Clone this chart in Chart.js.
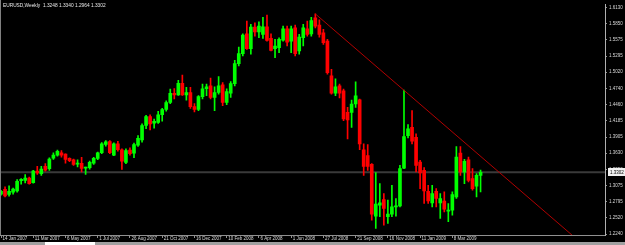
<!DOCTYPE html>
<html>
<head>
<meta charset="utf-8">
<script src="https://cdn.jsdelivr.net/npm/chart.js@4.4.1/dist/chart.umd.min.js"></script>
<style>
html, body { margin: 0; padding: 0; background: #000; }
#wrap { position: relative; width: 625px; height: 242px; }
#bar { position: relative; width: 625px; height: 3px; background: #a0a0a0; }
#tab { position: absolute; left: 45px; top: 0; width: 50px; height: 3px; background: #fff; }
</style>
</head>
<body>
<div id="wrap"><canvas id="chart" width="625" height="242"></canvas></div>
<div id="bar"><div id="tab"></div></div>
<script>
// EURUSD weekly candles, 14 Jan 2007 .. 26 Apr 2009
const opens = [
  1.2924, 1.3009, 1.2919, 1.2958, 1.2980, 1.3158, 1.3163, 1.3202, 1.3124, 1.3322,
  1.3278, 1.3402, 1.3363, 1.3544, 1.3596, 1.3637, 1.3613, 1.3539, 1.3517, 1.3442,
  1.3454, 1.3373, 1.3380, 1.3459, 1.3539, 1.3637, 1.3779, 1.3830, 1.3596, 1.3791,
  1.3688, 1.3471, 1.3681, 1.3630, 1.3767, 1.3859, 1.4108, 1.4260, 1.4143, 1.4160,
  1.4290, 1.4380, 1.4500, 1.4660, 1.4630, 1.4830, 1.4630, 1.4670, 1.4430, 1.4380,
  1.4600, 1.4736, 1.4787, 1.4587, 1.4672, 1.4804, 1.4502, 1.4662, 1.4826, 1.5168,
  1.5339, 1.5681, 1.5425, 1.5796, 1.5715, 1.5671, 1.5801, 1.5602, 1.5425, 1.5442,
  1.5573, 1.5766, 1.5556, 1.5784, 1.5385, 1.5613, 1.5766, 1.5681, 1.5955, 1.5830,
  1.5698, 1.5556, 1.4960, 1.4662, 1.4787, 1.4702, 1.4331, 1.4331, 1.4474, 1.4548,
  1.3688, 1.3590, 1.3437, 1.2548, 1.2736, 1.2833, 1.2536, 1.2582, 1.2707, 1.2724,
  1.3373, 1.3932, 1.4074, 1.3903, 1.3476, 1.3334, 1.2975, 1.2775, 1.2975, 1.2775,
  1.2804, 1.2633, 1.2650, 1.2878, 1.3630, 1.3305, 1.3517, 1.3192, 1.3061, 1.3248
];
const highs = [
  1.2992, 1.3049, 1.3066, 1.3031, 1.3175, 1.3192, 1.3261, 1.3219, 1.3334, 1.3402,
  1.3402, 1.3449, 1.3551, 1.3637, 1.3681, 1.3676, 1.3620, 1.3551, 1.3527, 1.3517,
  1.3556, 1.3390, 1.3493, 1.3556, 1.3647, 1.3813, 1.3847, 1.3847, 1.3808, 1.3835,
  1.3705, 1.3705, 1.3722, 1.3801, 1.3932, 1.4132, 1.4280, 1.4290, 1.4215, 1.4350,
  1.4400, 1.4530, 1.4730, 1.4740, 1.4880, 1.4970, 1.4760, 1.4760, 1.4480, 1.4620,
  1.4816, 1.4816, 1.4918, 1.4770, 1.4946, 1.4843, 1.4736, 1.4860, 1.5227, 1.5454,
  1.5681, 1.5898, 1.5842, 1.5870, 1.5887, 1.5966, 1.6001, 1.5681, 1.5585, 1.5613,
  1.5813, 1.5813, 1.5813, 1.5830, 1.5671, 1.5842, 1.5898, 1.5966, 1.6023, 1.5921,
  1.5756, 1.5585, 1.5072, 1.4906, 1.4816, 1.4731, 1.4416, 1.4543, 1.4855, 1.4560,
  1.3790, 1.3779, 1.3449, 1.3295, 1.3107, 1.2936, 1.2821, 1.3078, 1.2850, 1.3419,
  1.4713, 1.4120, 1.4360, 1.3961, 1.3505, 1.3380, 1.3078, 1.3078, 1.3021, 1.2936,
  1.2963, 1.2765, 1.2963, 1.3744, 1.3744, 1.3522, 1.3561, 1.3363, 1.3278, 1.3340
];
const lows = [
  1.2907, 1.2878, 1.2890, 1.2924, 1.2958, 1.3095, 1.3117, 1.3095, 1.3112, 1.3266,
  1.3249, 1.3322, 1.3334, 1.3522, 1.3578, 1.3561, 1.3459, 1.3483, 1.3419, 1.3391,
  1.3305, 1.3266, 1.3356, 1.3437, 1.3517, 1.3620, 1.3749, 1.3620, 1.3585, 1.3664,
  1.3351, 1.3449, 1.3596, 1.3551, 1.3744, 1.3818, 1.4050, 1.4030, 1.4060, 1.4140,
  1.4180, 1.4350, 1.4480, 1.4560, 1.4620, 1.4620, 1.4540, 1.4400, 1.4340, 1.4360,
  1.4560, 1.4616, 1.4560, 1.4360, 1.4645, 1.4445, 1.4462, 1.4587, 1.4787, 1.5129,
  1.5300, 1.5414, 1.5329, 1.5642, 1.5613, 1.5602, 1.5556, 1.5385, 1.5271, 1.5356,
  1.5556, 1.5471, 1.5356, 1.5300, 1.5329, 1.5471, 1.5642, 1.5642, 1.5784, 1.5625,
  1.5500, 1.4987, 1.4645, 1.4616, 1.4577, 1.4189, 1.3876, 1.4074, 1.4416, 1.3688,
  1.3249, 1.3334, 1.2479, 1.2337, 1.2536, 1.2394, 1.2423, 1.2536, 1.2548, 1.2707,
  1.3363, 1.3893, 1.3790, 1.3305, 1.3021, 1.2765, 1.2765, 1.2707, 1.2707, 1.2508,
  1.2621, 1.2450, 1.2565, 1.2850, 1.3249, 1.3107, 1.3134, 1.2992, 1.2878, 1.2964
];
const closes = [
  1.2975, 1.2895, 1.2975, 1.3014, 1.3146, 1.3180, 1.3202, 1.3107, 1.3322, 1.3288,
  1.3356, 1.3339, 1.3527, 1.3596, 1.3659, 1.3596, 1.3522, 1.3500, 1.3437, 1.3454,
  1.3368, 1.3385, 1.3471, 1.3539, 1.3637, 1.3791, 1.3825, 1.3637, 1.3791, 1.3688,
  1.3493, 1.3676, 1.3620, 1.3779, 1.3886, 1.4103, 1.4260, 1.4132, 1.4177, 1.4290,
  1.4380, 1.4500, 1.4660, 1.4630, 1.4830, 1.4630, 1.4670, 1.4430, 1.4380, 1.4600,
  1.4736, 1.4770, 1.4587, 1.4672, 1.4787, 1.4502, 1.4690, 1.4826, 1.5168, 1.5339,
  1.5659, 1.5425, 1.5796, 1.5715, 1.5813, 1.5801, 1.5568, 1.5397, 1.5471, 1.5585,
  1.5766, 1.5539, 1.5766, 1.5339, 1.5625, 1.5784, 1.5671, 1.5910, 1.5813, 1.5671,
  1.5527, 1.5014, 1.4662, 1.4770, 1.4662, 1.4218, 1.4201, 1.4474, 1.4616, 1.3790,
  1.3402, 1.3402, 1.2582, 1.2753, 1.2775, 1.2679, 1.2582, 1.2707, 1.2724, 1.3363,
  1.3915, 1.4047, 1.3835, 1.3419, 1.3288, 1.2980, 1.2809, 1.2936, 1.2850, 1.2850,
  1.2667, 1.2650, 1.2919, 1.3561, 1.3305, 1.3488, 1.3163, 1.3021, 1.3249, 1.3302
];
// date labels under every 8th bar
const xTickLabels = ['14 Jan 2007', '11 Mar 2007', '6 May 2007', '1 Jul 2007', '26 Aug 2007',
  '21 Oct 2007', '16 Dec 2007', '10 Feb 2008', '6 Apr 2008', '1 Jun 2008', '27 Jul 2008',
  '21 Sep 2008', '16 Nov 2008', '11 Jan 2009', '8 Mar 2009'];
const yTickValues = [1.2240, 1.2520, 1.2795, 1.3075, 1.3350, 1.3630, 1.3905, 1.4185,
  1.4460, 1.4740, 1.5020, 1.5295, 1.5575, 1.5850, 1.6130];
const bidPrice = 1.3302;
const trendX = [78, 141.8];
const trendY = [1.6023, 1.2215];
const chartTitle = 'EURUSD,Weekly  1.3248 1.3340 1.2964 1.3302';

const GREEN = '#00ff00';
const RED = '#ff0000';
const FONT = { family: '"Liberation Sans", Arial, sans-serif', size: 4.5 };

let candleColors = [];
let wickData = [];
let bodyData = [];
for (let i = 0; i < closes.length; i++) {
    candleColors.push(closes[i] >= opens[i] ? GREEN : RED);
    wickData.push({ x: i, y: [lows[i], highs[i]] });
    bodyData.push({ x: i, y: [opens[i], closes[i]] });
}

const mtOverlay = {
    id: 'mtOverlay',
    afterDraw(chart) {
        const ctx = chart.ctx;
        const area = chart.chartArea;
        const py = chart.scales.y.getPixelForValue(bidPrice);
        ctx.save();
        // window border on the left
        ctx.fillStyle = '#808080';
        ctx.fillRect(0, 0, 1, area.bottom);
        ctx.font = '4.8px "Liberation Sans", Arial, sans-serif';
        ctx.textBaseline = 'middle';
        ctx.fillStyle = '#e8e8e8';
        ctx.fillText(chartTitle, 3, 6);
        // price box on the axis
        ctx.fillStyle = '#f0f0f0';
        ctx.fillRect(area.right + 3, Math.round(py) - 4, 20, 8);
        ctx.fillStyle = '#000000';
        ctx.font = '4.5px "Liberation Sans", Arial, sans-serif';
        ctx.fillText(bidPrice.toFixed(4), area.right + 5, py + 0.5);
        ctx.restore();
    }
};

const ctx = document.getElementById('chart').getContext('2d');
const chart = new Chart(ctx, {
    type: 'bar',
    data: {
        datasets: [
            {
                type: 'line',
                data: [{ x: trendX[0], y: trendY[0] }, { x: trendX[1], y: trendY[1] }],
                borderColor: '#b00000',
                borderWidth: 1,
                pointRadius: 0,
                order: 0
            },
            {
                data: bodyData,
                backgroundColor: candleColors,
                barThickness: 3,
                minBarLength: 1,
                order: 1
            },
            {
                data: wickData,
                backgroundColor: candleColors,
                barThickness: 1,
                order: 2
            },
            {
                type: 'line',
                data: [{ x: -0.25, y: bidPrice }, { x: 150, y: bidPrice }],
                borderColor: '#3a3a3a',
                borderWidth: 2,
                pointRadius: 0,
                order: 3
            }
        ]
    },
    options: {
        responsive: false,
        animation: false,
        devicePixelRatio: 1,
        layout: { padding: { top: 3, left: 0, right: 0, bottom: 0 } },
        datasets: { bar: { grouped: false, borderWidth: 0, borderSkipped: false } },
        plugins: { legend: { display: false }, tooltip: { enabled: false } },
        scales: {
            x: {
                type: 'linear',
                offset: false,
                min: -0.25,
                max: 149.88,
                grid: { display: true, drawOnChartArea: false, offset: false, color: '#909090', tickLength: 3 },
                border: { display: true, color: '#909090' },
                ticks: {
                    color: '#d8d8d8',
                    font: FONT,
                    align: 'start',
                    autoSkip: false,
                    maxRotation: 0,
                    padding: -2,
                    labelOffset: 1.5,
                    callback: (v) => xTickLabels[Math.round(v / 8)]
                },
                afterBuildTicks: (scale) => {
                    scale.ticks = xTickLabels.map((l, k) => ({ value: k * 8 }));
                },
                afterFit: (scale) => { scale.height = 7; }
            },
            y: {
                position: 'right',
                min: 1.2240 - 1 / 586.12,
                max: 1.6130 + 3 / 586.12,
                grid: { display: true, drawOnChartArea: false, color: '#909090', tickLength: 2 },
                border: { display: true, color: '#b0b0b0' },
                ticks: {
                    color: '#d8d8d8',
                    font: FONT,
                    padding: 2,
                    callback: (v) => v.toFixed(4)
                },
                afterBuildTicks: (scale) => {
                    scale.ticks = yTickValues.map(v => ({ value: v }));
                },
                afterFit: (scale) => { scale.width = 20; }
            }
        }
    },
    plugins: [mtOverlay]
});
</script>
</body>
</html>
